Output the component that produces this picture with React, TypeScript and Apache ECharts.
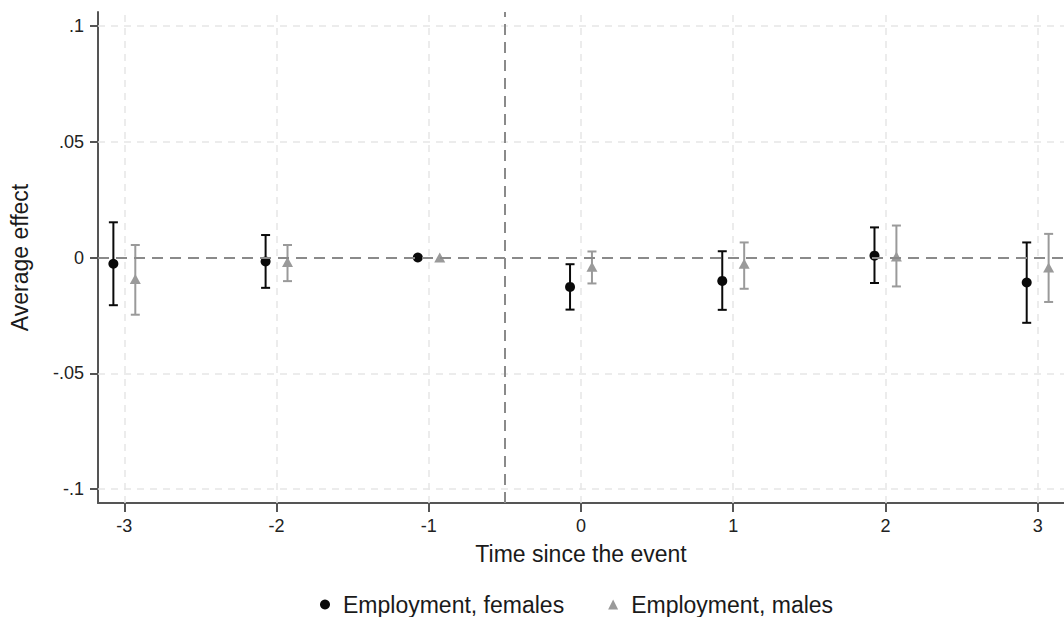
import React, { useEffect, useRef } from "react";
import * as echarts from "echarts";

const periods = [-3, -2, -1, 0, 1, 2, 3];
const femaleEst = [-0.0027, -0.0017, 0, -0.0127, -0.0101, 0.0008, -0.0108];
const femaleLo = [-0.0206, -0.0131, 0, -0.0225, -0.0226, -0.011, -0.0282];
const femaleHi = [0.0152, 0.0097, 0, -0.0029, 0.0027, 0.013, 0.0065];
const maleEst = [-0.0093, -0.0019, 0, -0.004, -0.0027, 0.0004, -0.0043];
const maleLo = [-0.0247, -0.0102, 0, -0.0112, -0.0135, -0.0125, -0.0192];
const maleHi = [0.0054, 0.0054, 0, 0.0026, 0.0065, 0.0138, 0.0102];
const yTicks = [-0.1, -0.05, 0, 0.05, 0.1];
const eventLine = -0.5;

const FEMALE = "Employment, females";
const MALE = "Employment, males";
const FONT = "'Liberation Sans', Arial, sans-serif";
const OFFSET = 0.072;
const FCOL = "#0a0a0a";
const MCOL = "#9a9a9a";

const fmt = (v: number) => {
  if (v === 0) return "0";
  const s = String(Math.round(v * 1000) / 1000);
  return s.replace("0.", ".");
};

function errBar(color: string) {
  return (params: any, api: any) => {
    const x = api.value(0);
    const lo = api.value(1);
    const hi = api.value(2);
    if (lo === hi) return { type: "group", children: [] };
    const t = api.coord([x, hi]);
    const b = api.coord([x, lo]);
    const w = 4.5;
    const st = { stroke: color, lineWidth: 2 };
    return {
      type: "group",
      children: [
        { type: "line", shape: { x1: t[0], y1: t[1], x2: b[0], y2: b[1] }, style: st },
        { type: "line", shape: { x1: t[0] - w, y1: t[1], x2: t[0] + w, y2: t[1] }, style: st },
        { type: "line", shape: { x1: b[0] - w, y1: b[1], x2: b[0] + w, y2: b[1] }, style: st },
      ],
    };
  };
}

export default function App() {
  const ref = useRef<HTMLDivElement>(null);
  useEffect(() => {
    document.body.style.margin = "0";
    const chart = echarts.init(ref.current!, null, { renderer: "svg" });
    const gridStyle = { color: "#e6e6e6", width: 1.5, type: [7, 6] as any };
    const refStyle = { color: "#8a8a8a", width: 2, type: [11, 7] as any };
    chart.setOption({
      animation: false,
      backgroundColor: "#ffffff",
      textStyle: { fontFamily: FONT },
      grid: { left: 94, top: 12, width: 978, height: 491, containLabel: false },
      legend: {
        left: 315,
        top: 588,
        itemWidth: 10,
        itemHeight: 10,
        itemGap: 44,
        textStyle: { fontSize: 23, color: "#1a1a1a", fontFamily: FONT, padding: [0, 0, 0, 8] },
        data: [
          { name: FEMALE, icon: "circle", itemStyle: { color: FCOL } },
          { name: MALE, icon: "triangle", itemStyle: { color: MCOL } },
        ],
        selectedMode: false,
      },
      xAxis: {
        type: "value",
        min: -3.173,
        max: 3.173,
        name: "Time since the event",
        nameLocation: "middle",
        nameGap: 39,
        nameTextStyle: { fontSize: 23, color: "#1a1a1a", fontFamily: FONT },
        axisLine: { show: true, onZero: false, lineStyle: { color: "#555", width: 2 } },
        axisTick: { show: true, length: 9, customValues: periods, lineStyle: { color: "#555", width: 2 } },
        axisLabel: {
          customValues: periods,
          fontSize: 18,
          color: "#222",
          margin: 14,
          fontFamily: FONT,
          formatter: (v: number) => String(v),
        },
        splitLine: { show: false },
      },
      yAxis: {
        type: "value",
        min: -0.106,
        max: 0.106,
        name: "Average effect",
        nameLocation: "middle",
        nameGap: 67,
        nameTextStyle: { fontSize: 23, color: "#1a1a1a", fontFamily: FONT },
        axisLine: { show: true, onZero: false, lineStyle: { color: "#555", width: 2 } },
        axisTick: { show: true, length: 8, customValues: yTicks, lineStyle: { color: "#555", width: 2 } },
        axisLabel: {
          customValues: yTicks,
          fontSize: 18,
          color: "#222",
          margin: 14,
          fontFamily: FONT,
          formatter: fmt,
        },
        splitLine: { show: false },
      },
      series: [
        {
          type: "scatter",
          name: "grid",
          silent: true,
          symbolSize: 0,
          data: [[0, 0]],
          z: 1,
          markLine: {
            silent: true,
            symbol: "none",
            label: { show: false },
            animation: false,
            data: [
              ...periods.map((p) => ({ xAxis: p, lineStyle: gridStyle })),
              ...yTicks.filter((v) => v !== 0).map((v) => ({ yAxis: v, lineStyle: gridStyle })),
            ],
          },
        },
        {
          type: "scatter",
          name: "ref",
          silent: true,
          symbolSize: 0,
          data: [[0, 0]],
          z: 2,
          markLine: {
            silent: true,
            symbol: "none",
            label: { show: false },
            animation: false,
            data: [
              { yAxis: 0, lineStyle: refStyle },
              { xAxis: eventLine, lineStyle: refStyle },
            ],
          },
        },
        {
          type: "custom",
          name: "femaleCI",
          z: 3,
          renderItem: errBar(FCOL),
          encode: { x: 0, y: [1, 2] },
          data: periods.map((p, i) => [p - OFFSET, femaleLo[i], femaleHi[i]]),
        },
        {
          type: "custom",
          name: "maleCI",
          z: 3,
          renderItem: errBar(MCOL),
          encode: { x: 0, y: [1, 2] },
          data: periods.map((p, i) => [p + OFFSET, maleLo[i], maleHi[i]]),
        },
        {
          type: "scatter",
          name: FEMALE,
          z: 4,
          symbol: "circle",
          symbolSize: 10,
          itemStyle: { color: FCOL, opacity: 1 },
          data: periods.map((p, i) => [p - OFFSET, femaleEst[i]]),
        },
        {
          type: "scatter",
          name: MALE,
          z: 4,
          symbol: "triangle",
          symbolSize: [11, 10],
          itemStyle: { color: MCOL, opacity: 1 },
          data: periods.map((p, i) => [p + OFFSET, maleEst[i]]),
        },
      ],
    });
    return () => chart.dispose();
  }, []);
  return (
    <div
      ref={ref}
      style={{ position: "absolute", left: 0, top: 0, width: 1064, height: 617, background: "#fff" }}
    />
  );
}
